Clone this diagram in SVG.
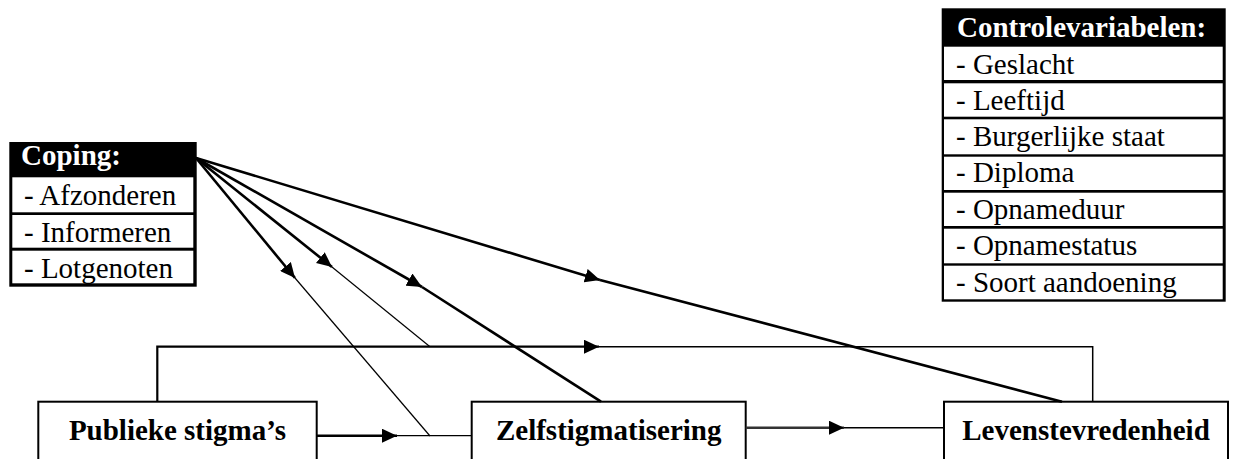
<svg xmlns="http://www.w3.org/2000/svg" width="1240" height="459" viewBox="0 0 1240 459">
<style>
.t{font-family:'Liberation Serif','Tinos','DejaVu Serif',serif;font-size:29px;fill:#000}
.hd{font-weight:bold;fill:#fff}
.bx{font-weight:bold;text-anchor:middle}
.blk{fill:#000}
.wht{fill:#fff}
.node{fill:#fff;stroke:#000;stroke-width:2}
.thick{fill:none;stroke:#000;stroke-width:2.6}
.thin{fill:none;stroke:#000;stroke-width:1.2}
</style>
<defs>
<marker id="ah" viewBox="0 0 15 14" refX="15" refY="7" markerWidth="15" markerHeight="14" markerUnits="userSpaceOnUse" orient="auto">
<path d="M0,0 L15,7 L0,14 z" fill="#000"/>
</marker>
</defs>
<rect width="1240" height="459" fill="#fff"/>

<g id="coping" font-family="Liberation Serif, serif">
<rect class="blk" x="9.3" y="142" width="187.4" height="144.7"/>
<rect class="wht" x="12.3" y="177.3" width="181" height="35"/>
<rect class="wht" x="12.3" y="215" width="181" height="32.7"/>
<rect class="wht" x="12.3" y="250.7" width="181" height="32.6"/>
<text class="t hd" x="21" y="165">Coping:</text>
<text class="t" x="24" y="205">- Afzonderen</text>
<text class="t" x="24" y="241.5">- Informeren</text>
<text class="t" x="24" y="278">- Lotgenoten</text>
</g>

<g id="controle" font-family="Liberation Serif, serif">
<rect class="blk" x="941.7" y="8.3" width="284" height="293.4"/>
<rect class="wht" x="944" y="46.7" width="278.7" height="33.3"/>
<rect class="wht" x="944" y="83.3" width="278.7" height="33.4"/>
<rect class="wht" x="944" y="119.3" width="278.7" height="35"/>
<rect class="wht" x="944" y="156.7" width="278.7" height="33.3"/>
<rect class="wht" x="944" y="192.7" width="278.7" height="33.3"/>
<rect class="wht" x="944" y="228.7" width="278.7" height="34.6"/>
<rect class="wht" x="944" y="265.7" width="278.7" height="33.6"/>
<text class="t hd" x="957" y="37">Controlevariabelen:</text>
<text class="t" x="956" y="73.5">- Geslacht</text>
<text class="t" x="956" y="110">- Leeftijd</text>
<text class="t" x="956" y="146">- Burgerlijke staat</text>
<text class="t" x="956" y="182">- Diploma</text>
<text class="t" x="956" y="218.5">- Opnameduur</text>
<text class="t" x="956" y="255">- Opnamestatus</text>
<text class="t" x="956" y="291.5">- Soort aandoening</text>
</g>

<g id="publiek">
<rect class="node" x="38.3" y="401.7" width="278.4" height="70"/>
<text class="t bx" x="177.5" y="440">Publieke stigma’s</text>
</g>
<g id="zelf">
<rect class="node" x="471.7" y="401.7" width="274" height="70"/>
<text class="t bx" x="608.7" y="440">Zelfstigmatisering</text>
</g>
<g id="leven">
<rect class="node" x="944" y="401.7" width="284" height="70"/>
<text class="t bx" x="1086" y="440">Levenstevredenheid</text>
</g>

<g id="connectors">
<line class="thick" x1="196" y1="158" x2="295" y2="278" marker-end="url(#ah)"/>
<line class="thin" x1="295" y1="278" x2="430" y2="436"/>
<line class="thick" x1="196" y1="158" x2="332" y2="267" marker-end="url(#ah)"/>
<line class="thin" x1="332" y1="267" x2="430" y2="346.7"/>
<line class="thick" x1="196" y1="158" x2="422" y2="287" marker-end="url(#ah)"/>
<line class="thick" x1="422" y1="287" x2="601" y2="401.7"/>
<line class="thick" x1="196" y1="158" x2="600" y2="280" marker-end="url(#ah)"/>
<line class="thick" x1="600" y1="280" x2="1062" y2="401.7"/>
<path class="thick" style="stroke-width:2.2" d="M157.3,401.7 V346.7 H599" marker-end="url(#ah)"/>
<path class="thin" style="stroke-width:1.5" d="M599,346.7 H1092.7 V401.7"/>
<line class="thick" x1="316.7" y1="435.7" x2="397" y2="435.7" marker-end="url(#ah)"/>
<line class="thin" x1="397" y1="435.7" x2="471.7" y2="435.7"/>
<line class="thick" style="stroke:#333" x1="745.7" y1="427.7" x2="844" y2="427.7" marker-end="url(#ah)"/>
<line class="thin" style="stroke-width:1.5" x1="844" y1="427.7" x2="944" y2="427.7"/>
</g>
</svg>
